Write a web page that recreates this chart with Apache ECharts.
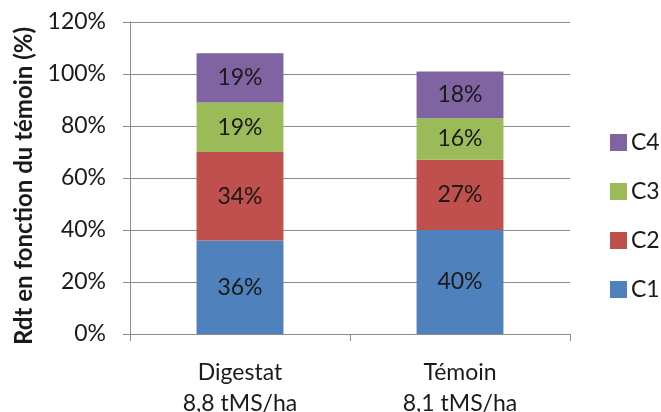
<!DOCTYPE html>
<html>
<head>
<meta charset="utf-8">
<script src="https://cdn.jsdelivr.net/npm/echarts@6/dist/echarts.min.js"></script>
<style>
  html, body { margin: 0; padding: 0; background: #fff; }
  #chart { width: 661px; height: 412px; }
</style>
</head>
<body>
<div id="chart"></div>
<script>
// Yield per treatment, split into components C1..C4 (% of the control)
const categories = ['Digestat\n8,8 tMS/ha', 'Témoin\n8,1 tMS/ha'];
const c1 = [36, 40];
const c2 = [34, 27];
const c3 = [19, 16];
const c4 = [19, 18];
const yTicks = { min: 0, max: 120, interval: 20 };

const FONT = 'Lato';
const FS = 23;
const GRAY = '#8c8c8c';

function stackSeries(name, data, color) {
  return {
    name: name,
    type: 'bar',
    stack: 'rdt',
    data: data,
    barWidth: '39.5%',
    itemStyle: { color: color },
    label: {
      show: true,
      position: 'inside',
      formatter: '{c}%',
      color: '#1a1a1a',
      fontFamily: FONT,
      fontSize: FS
    }
  };
}

const chart = echarts.init(document.getElementById('chart'), null, { renderer: 'canvas' });
chart.setOption({
  animation: false,
  backgroundColor: '#ffffff',
  grid: { left: 130, right: 91, top: 22, bottom: 78, outerBoundsMode: 'none', containLabel: false },
  xAxis: {
    type: 'category',
    data: categories,
    axisLine: { lineStyle: { color: GRAY, width: 1 } },
    axisTick: { show: true, length: 7, lineStyle: { color: GRAY } },
    axisLabel: {
      color: '#1a1a1a',
      fontFamily: FONT,
      fontSize: FS,
      lineHeight: 31,
      margin: 23
    }
  },
  yAxis: {
    type: 'value',
    min: yTicks.min,
    max: yTicks.max,
    interval: yTicks.interval,
    name: 'Rdt en fonction du témoin (%)',
    nameLocation: 'middle',
    nameGap: 93,
    nameRotate: 90,
    nameTextStyle: {
      color: '#1a1a1a', fontFamily: FONT, fontSize: 24, fontWeight: 'bold',
      padding: [0, 16, 0, 0]
    },
    axisLine: { show: true, lineStyle: { color: GRAY, width: 1 } },
    axisTick: { show: true, length: 7, lineStyle: { color: GRAY } },
    axisLabel: {
      formatter: '{value}%',
      color: '#1a1a1a',
      fontFamily: FONT,
      fontSize: FS,
      margin: 24
    },
    splitLine: { lineStyle: { color: GRAY, width: 1 } }
  },
  legend: {
    orient: 'vertical',
    left: 605,
    top: 126,
    width: 56,
    data: ['C4', 'C3', 'C2', 'C1'],
    itemWidth: 17,
    itemHeight: 17,
    itemGap: 26,
    icon: 'rect',
    textStyle: { color: '#1a1a1a', fontFamily: FONT, fontSize: FS, lineHeight: 20, padding: [0, 0, 0, -1] }
  },
  series: [
    stackSeries('C1', c1, '#4f81bd'),
    stackSeries('C2', c2, '#c0504d'),
    stackSeries('C3', c3, '#9bbb59'),
    stackSeries('C4', c4, '#8064a2')
  ]
});
</script>
</body>
</html>
